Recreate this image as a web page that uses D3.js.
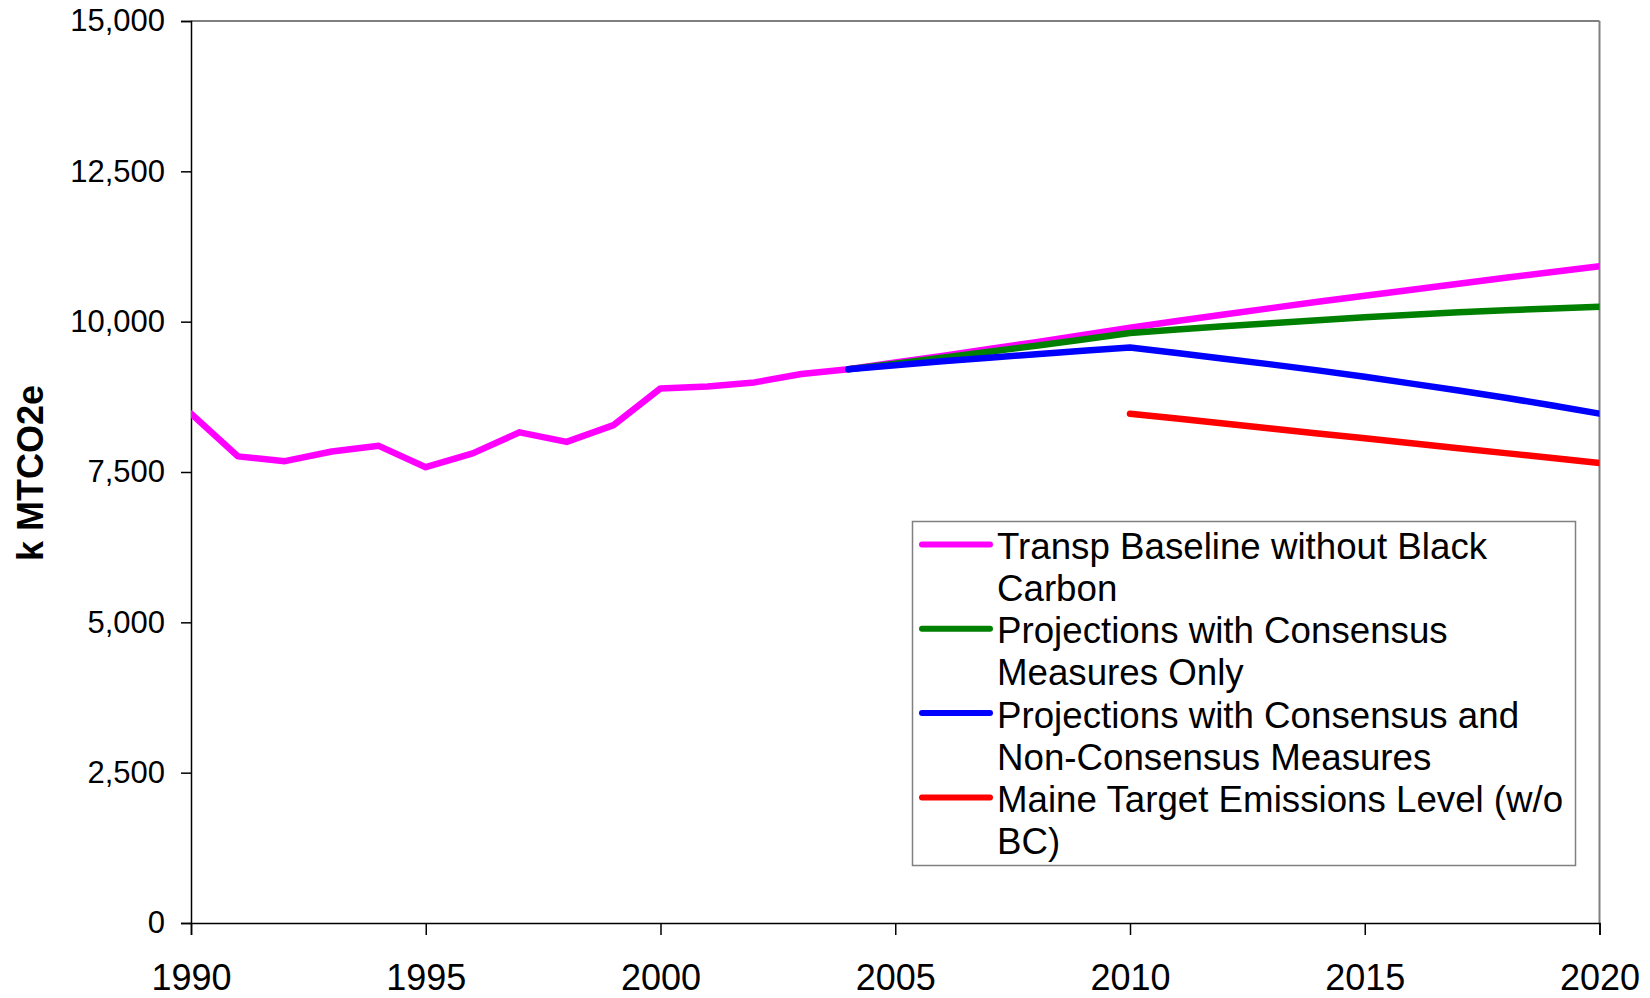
<!DOCTYPE html>
<html>
<head>
<meta charset="utf-8">
<script src="https://cdn.jsdelivr.net/npm/d3@7"></script>
<style>
  html, body { margin: 0; padding: 0; background: #fff; }
  svg { display: block; font-family: "Liberation Sans", Arial, sans-serif; }
</style>
</head>
<body>
<svg id="chart" width="1650" height="998"></svg>
<script>
// ---- data ----
const baselineYears = [1990,1991,1992,1993,1994,1995,1996,1997,1998,1999,2000,2001,2002,2003,2004,2005,2006,2007,2008,2009,2010,2011,2012,2013,2014,2015,2016,2017,2018,2019,2020];
const baselineValues = [8470,7760,7680,7840,7935,7580,7810,8160,8000,8280,8890,8920,8990,9130,9210,9320,9430,9545,9660,9780,9900,10010,10120,10225,10330,10430,10530,10630,10730,10825,10920];

const projYears = [2004,2005,2006,2007,2008,2009,2010,2011,2012,2013,2014,2015,2016,2017,2018,2019,2020];
const consensusValues = [9210,9300,9400,9500,9600,9705,9810,9870,9925,9975,10025,10075,10115,10155,10190,10220,10250];
const nonConsensusValues = [9210,9275,9340,9400,9460,9515,9570,9480,9385,9290,9190,9085,8970,8855,8735,8605,8470];

const targetYears = [2010,2011,2012,2013,2014,2015,2016,2017,2018,2019,2020];
const targetValues = [8470,8388,8306,8224,8142,8060,7978,7896,7814,7732,7650];

const seriesNames = [
  ["Transp Baseline without Black", "Carbon"],
  ["Projections with Consensus", "Measures Only"],
  ["Projections with Consensus and", "Non-Consensus Measures"],
  ["Maine Target Emissions Level (w/o", "BC)"]
];
const seriesColors = ["#ff00ff", "#008000", "#0000ff", "#ff0000"];

const yTicks = [0, 2500, 5000, 7500, 10000, 12500, 15000];
const xTicks = [1990, 1995, 2000, 2005, 2010, 2015, 2020];
const yTitle = "k MTCO2e";

// ---- layout ----
const svg = d3.select("#chart");
const pL = 191, pR = 1599.5, pT = 21, pB = 923;

const x = d3.scaleLinear().domain([1990, 2020]).range([pL, pR]);
const y = d3.scaleLinear().domain([0, 15000]).range([pB, pT]);

// plot frame (top & right gray)
svg.append("line").attr("x1", pL).attr("x2", pR).attr("y1", pT).attr("y2", pT)
  .attr("stroke", "#808080").attr("stroke-width", 2);
svg.append("line").attr("x1", pR).attr("x2", pR).attr("y1", pT).attr("y2", pB)
  .attr("stroke", "#808080").attr("stroke-width", 2);

// y axis
const yAxis = d3.axisLeft(y).tickValues(yTicks).tickSize(10).tickPadding(16)
  .tickFormat(d3.format(","));
const gy = svg.append("g").attr("transform", `translate(${pL},0)`).call(yAxis);
gy.select(".domain").attr("stroke", "#000").attr("stroke-width", 1.5);
gy.selectAll(".tick line").attr("stroke", "#000").attr("stroke-width", 1.5);
gy.selectAll(".tick text").attr("font-size", 31).attr("fill", "#000")
  .attr("font-family", "Liberation Sans, Arial, sans-serif");

// x axis
const xAxis = d3.axisBottom(x).tickValues(xTicks).tickSize(12).tickPadding(29)
  .tickFormat(d3.format("d"));
const gx = svg.append("g").attr("transform", `translate(0,${pB})`).call(xAxis);
gx.select(".domain").attr("stroke", "#000").attr("stroke-width", 1.5);
gx.selectAll(".tick line").attr("stroke", "#000").attr("stroke-width", 1.5);
gx.selectAll(".tick text").attr("font-size", 36).attr("fill", "#000")
  .attr("font-family", "Liberation Sans, Arial, sans-serif");

// y title
svg.append("text")
  .attr("transform", `translate(43,${(pT + pB) / 2 + 1}) rotate(-90)`)
  .attr("text-anchor", "middle")
  .attr("font-size", 36).attr("font-weight", "bold").attr("fill", "#000")
  .text(yTitle);

// lines
const line = d3.line().x(d => x(d[0])).y(d => y(d[1]));
const seriesData = [
  d3.zip(baselineYears, baselineValues),
  d3.zip(projYears, consensusValues),
  d3.zip(projYears, nonConsensusValues),
  d3.zip(targetYears, targetValues)
];
svg.append("clipPath").attr("id", "clip")
  .append("rect").attr("x", pL).attr("y", 0).attr("width", pR - pL).attr("height", 998);

seriesData.forEach((data, i) => {
  svg.append("path")
    .attr("d", line(data))
    .attr("fill", "none")
    .attr("stroke", seriesColors[i])
    .attr("stroke-width", 6.5)
    .attr("stroke-linejoin", "round")
    .attr("stroke-linecap", "round")
    .attr("clip-path", "url(#clip)");
});

// legend
const lg = svg.append("g");
lg.append("rect").attr("x", 912.5).attr("y", 521.5).attr("width", 663).attr("height", 344)
  .attr("fill", "#fff").attr("stroke", "#808080").attr("stroke-width", 1.5);
seriesNames.forEach((lines, i) => {
  const cy = 544.5 + i * 84.3;
  lg.append("line").attr("x1", 922).attr("x2", 990).attr("y1", cy).attr("y2", cy)
    .attr("stroke", seriesColors[i]).attr("stroke-width", 6).attr("stroke-linecap", "round");
  lines.forEach((t, j) => {
    lg.append("text").attr("x", 997).attr("y", 559 + i * 84.3 + j * 42.1)
      .attr("font-size", 36.7).attr("fill", "#000").text(t);
  });
});
</script>
</body>
</html>
